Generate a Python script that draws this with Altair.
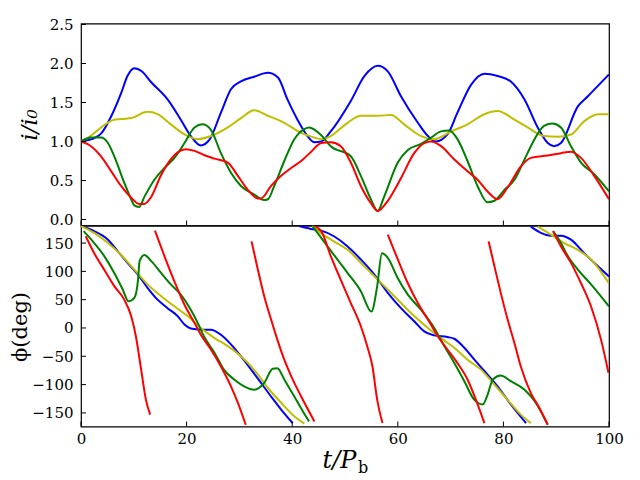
import altair as alt
import pandas as pd

# ---------------- data ----------------
XTICKS = [0, 20, 40, 60, 80, 100]
YTICKS_TOP = [0.0, 0.5, 1.0, 1.5, 2.0, 2.5]
YTICKS_BOT = [-150, -100, -50, 0, 50, 100, 150]

SERIES = ["b", "y", "g", "r"]
COLORS = {"b": "#0000ff", "y": "#bfbf00", "g": "#008000", "r": "#ff0000"}

BLUE_T = [0, 2, 3.8, 5.7, 7.6, 8.8, 10.1, 11.5, 13.3, 16.4, 18.9, 20.8, 22.7, 24.3, 26.5, 28.4, 30.3,
          32.8, 35.4, 37.3, 39.1, 41.0, 42.9, 44.2, 45.5, 47.3, 51.1, 53.7, 56.2, 58.1, 60.6, 63.8,
          65.7, 67.2, 69.4, 71.3, 73.9, 76.4, 78.9, 81.4, 84.0, 86.5, 88.4, 89.6, 90.9, 94.1, 96.0, 100]
BLUE_I = [1.0, 1.03, 1.1, 1.32, 1.62, 1.84, 1.94, 1.9, 1.76, 1.54, 1.28, 1.07, 0.95, 1.02, 1.37, 1.67, 1.77,
          1.83, 1.88, 1.82, 1.54, 1.28, 1.07, 0.99, 1.0, 1.13, 1.52, 1.84, 1.97, 1.9, 1.58, 1.24,
          1.07, 1.0, 1.09, 1.37, 1.73, 1.87, 1.84, 1.77, 1.54, 1.18, 0.98, 0.94, 0.98, 1.45, 1.58, 1.86]

YEL_T = [0, 2, 3.8, 6.3, 9.5, 12.6, 14.5, 17.0, 19.6, 22.1, 24.6, 27.8, 30.3, 32.8, 35.4, 38.5, 41.7,
         44.2, 45.5, 47.3, 50.5, 53.0, 56.2, 58.7, 61.2, 64.4, 66.9, 70.1, 73.2, 76.4, 78.9, 82.1,
         84.6, 87.7, 90.3, 92.8, 95.3, 97.9, 100]
YEL_I = [1.0, 1.08, 1.18, 1.28, 1.3, 1.38, 1.35, 1.22, 1.09, 1.03, 1.07, 1.18, 1.3, 1.40, 1.33, 1.24, 1.11,
         1.05, 1.03, 1.07, 1.24, 1.33, 1.33, 1.34, 1.22, 1.07, 1.03, 1.13, 1.22, 1.35, 1.39, 1.28,
         1.18, 1.07, 1.06, 1.09, 1.26, 1.35, 1.35]

GRN_T = [0, 1.9, 3.8, 5.1, 6.3, 8.2, 9.5, 10.1, 11.0, 12.0, 13.9, 15.8, 17.7, 19.6, 21.5, 23.0, 24.6,
         26.5, 28.4, 30.3, 32.8, 34.7, 35.4, 36.6, 38.5, 40.4, 42.3, 43.2, 45.5, 47.3, 51.1, 53.0,
         54.9, 56.2, 57.4, 60.0, 61.9, 64.4, 66.3, 68.2, 69.7, 71.3, 73.2, 75.1, 77.0, 78.3, 80.2,
         82.1, 84.0, 85.9, 87.7, 89.3, 90.9, 92.8, 94.7, 97.2, 100]
GRN_I = [1.0, 1.05, 1.05, 0.98, 0.81, 0.47, 0.26, 0.18, 0.16, 0.29, 0.51, 0.66, 0.79, 0.98, 1.18, 1.22, 1.15,
         0.85, 0.60, 0.43, 0.32, 0.25, 0.26, 0.43, 0.75, 1.03, 1.16, 1.18, 1.08, 0.94, 0.81, 0.56,
         0.26, 0.11, 0.29, 0.73, 0.89, 0.97, 1.05, 1.13, 1.14, 1.03, 0.75, 0.43, 0.22, 0.24, 0.38,
         0.51, 0.77, 1.03, 1.20, 1.23, 1.18, 0.94, 0.73, 0.58, 0.36]

RED_T = [0, 1.9, 3.8, 5.7, 7.6, 9.5, 11.0, 12.0, 13.3, 15.1, 17.0, 18.3, 19.9, 21.5, 23.5, 25.3, 27.8,
         29.7, 31.6, 33.5, 34.1, 36.0, 37.9, 39.8, 41.7, 43.6, 45.5, 47.3, 49.2, 51.1, 53.0, 54.9,
         56.2, 58.1, 60.6, 63.1, 65.0, 66.3, 68.2, 70.7, 73.2, 75.1, 77.0, 78.9, 80.8, 83.3, 85.2,
         88.4, 90.9, 92.8, 94.7, 97.2, 100]
RED_I = [1.0, 0.94, 0.81, 0.62, 0.43, 0.28, 0.2, 0.2, 0.29, 0.56, 0.77, 0.86, 0.9, 0.88, 0.82, 0.78, 0.73,
         0.56, 0.38, 0.27, 0.27, 0.43, 0.56, 0.66, 0.75, 0.87, 0.98, 0.99, 0.94, 0.73, 0.43, 0.21,
         0.11, 0.24, 0.53, 0.85, 0.98, 1.0, 0.94, 0.77, 0.62, 0.51, 0.36, 0.26, 0.41, 0.68, 0.79,
         0.82, 0.85, 0.87, 0.79, 0.56, 0.26]

# phase branches (each wraps at +/-180 deg)
BLUE_PHI = [
    ([0, 2.5, 5.1, 7.0, 8.8, 10.8, 12.6, 14.5, 16.4, 18.3, 19.6, 20.8, 22.7, 24.6, 26.5, 28.4, 30.3, 32.2, 34.1, 36.0, 37.9, 40.1],
     [180, 171, 156, 135, 115, 94, 71, 50, 35, 21, 6, -1, -3, -3, -12, -29, -50, -73, -97, -121, -144, -168]),
    ([41.3, 43.5, 45.5, 47.9, 50.5, 53.0, 55.6, 58.1, 60.6, 63.1, 65.0, 66.9, 69.4, 70.7, 72.6, 74.5, 76.4, 78.9, 81.4, 84.3],
     [180, 175, 172, 162, 144, 121, 94, 62, 35, 12, -6, -13, -16, -19, -35, -56, -76, -103, -135, -168]),
    ([85.2, 87.1, 89.0, 90.9, 92.8, 95.3, 97.9, 100],
     [179, 168, 163, 163, 156, 132, 109, 91]),
]
YEL_PHI = [
    ([0, 2.5, 5.1, 7.6, 10.1, 12.6, 15.2, 17.7, 20.2, 22.7, 25.3, 27.8, 30.3, 32.8, 35.4, 37.9, 40.4, 42.3],
     [180, 168, 150, 129, 103, 77, 56, 38, 21, 0, -18, -32, -50, -74, -106, -132, -156, -169]),
    ([43.8, 45.5, 47.9, 50.5, 53.0, 55.6, 58.1, 60.6, 63.1, 65.7, 68.2, 70.7, 73.2, 75.8, 78.3, 80.8, 83.3, 85.2],
     [180, 167, 153, 138, 115, 91, 68, 44, 21, 0, -18, -35, -56, -74, -100, -127, -153, -168]),
    ([86.5, 89.0, 91.5, 94.1, 96.6, 100],
     [179, 165, 150, 138, 121, 79]),
]
GRN_PHI = [
    ([0.5, 2.5, 4.4, 6.3, 7.9, 9.0, 10.1, 10.8, 11.1, 12.0, 13.3, 15.2, 17.0, 18.9, 20.8, 22.1, 23.3, 25.3, 27.1, 29.0,
      30.9, 32.8, 34.7, 36.3, 37.2, 38.5, 40.4, 42.0, 43.2],
     [171, 150, 127, 97, 68, 47, 53, 85, 118, 129, 118, 97, 77, 59, 32, 9, -15, -44, -74, -91,
      -103, -109, -97, -72, -71, -91, -121, -147, -165]),
    ([43.9, 45.5, 47.9, 50.5, 53.0, 55.0, 56.1, 57.0, 58.1, 60.0, 61.9, 64.4, 66.9, 68.8, 70.7, 72.6, 74.5, 76.1, 77.0,
      78.0, 79.5, 81.4, 84.0, 85.9, 88.4],
     [179, 159, 129, 97, 65, 29, 74, 132, 124, 88, 59, 32, 0, -32, -62, -94, -127, -135, -118,
      -91, -84, -94, -109, -129, -171]),
    ([89.4, 90.9, 92.2, 94.1, 96.6, 100],
     [171, 150, 127, 103, 77, 38]),
]
RED_PHI = [
    ([0.9, 2.5, 4.4, 6.3, 8.2, 9.5, 10.4, 11.4, 12.3, 13.1],
     [162, 132, 103, 74, 50, 21, -15, -74, -127, -153]),
    ([14.0, 15.8, 17.7, 19.6, 21.5, 22.7, 24.6, 26.5, 28.4, 29.7, 31.2],
     [172, 127, 82, 41, 9, -12, -38, -68, -103, -132, -171]),
    ([32.3, 33.5, 34.7, 36.0, 37.2, 38.5, 39.8, 41.7, 44.2],
     [153, 103, 56, 15, -21, -56, -85, -121, -165]),
    ([44.4, 45.5, 47.3, 49.2, 51.1, 53.0, 54.2, 55.2, 56.1, 57.1],
     [179, 171, 127, 85, 44, 3, -32, -68, -127, -168]),
    ([58.1, 60.0, 61.9, 63.8, 65.7, 67.6, 69.4, 71.3, 73.2, 74.8, 76.4],
     [165, 121, 79, 44, 15, -15, -38, -62, -91, -127, -168]),
    ([77.2, 78.3, 79.5, 80.8, 82.1, 83.3, 85.2, 86.8, 88.4],
     [153, 109, 62, 15, -27, -68, -115, -141, -171]),
    ([89.4, 90.9, 92.8, 94.7, 96.6, 98.5, 99.9],
     [171, 144, 115, 79, 38, -21, -79]),
]

# ---------------- tables ----------------
TOP = {"b": (BLUE_T, BLUE_I), "y": (YEL_T, YEL_I), "g": (GRN_T, GRN_I), "r": (RED_T, RED_I)}
BOT = {"b": BLUE_PHI, "y": YEL_PHI, "g": GRN_PHI, "r": RED_PHI}

top_rows = []
for s, (ts, vs) in TOP.items():
    for t, v in zip(ts, vs):
        top_rows.append({"t": t, "v": v, "s": s})
df_top = pd.DataFrame(top_rows)

bot_rows = []
for s, segs in BOT.items():
    for k, (ts, ps) in enumerate(segs):
        for t, p in zip(ts, ps):
            bot_rows.append({"t": t, "phi": p, "s": s, "seg": f"{s}{k}"})
df_bot = pd.DataFrame(bot_rows)

# ---------------- chart ----------------
W, H_TOP, H_BOT = 528, 202, 201
FONT = "DejaVu Serif"

xscale = alt.Scale(domain=[0, 100], nice=False, zero=False)
ytop_scale = alt.Scale(domain=[-0.077, 2.513], nice=False, zero=False)
ybot_scale = alt.Scale(domain=[-174, 181], nice=False, zero=False)

common_axis = dict(ticks=False, domain=False, grid=False, labelFont=FONT, labelFontSize=15,
                   labelColor="black", labelFlush=False, titleFont=FONT, titleColor="black",
                   titleFontWeight="normal")

ytop_axis = alt.Axis(values=YTICKS_TOP, format=".1f", labelPadding=8, title="i/i₀",
                     titleFontSize=23, titleFontStyle="italic", titleAngle=270, titleX=-52, titleY=101,
                     titleAlign="center", titleBaseline="middle", **common_axis)
ybot_axis = alt.Axis(values=YTICKS_BOT, format="d", labelPadding=8, title="ϕ(deg)",
                     titleFontSize=21, titleAngle=270, titleX=-61, titleY=101,
                     titleAlign="center", titleBaseline="middle", **common_axis)
xbot_axis = alt.Axis(values=XTICKS, format="d", labelPadding=5, title="t/P",
                     titleFontSize=24, titleFontStyle="italic", titleX=258, titleY=41,
                     titleAlign="center", titleBaseline="alphabetic", **common_axis)


def panel(df, yfield, yscale, yaxis, xaxis, yticks, h):
    layers = []
    for s in SERIES:
        d = df[df["s"] == s]
        enc = dict(x=alt.X("t:Q", scale=xscale, axis=xaxis),
                   y=alt.Y(f"{yfield}:Q", scale=yscale, axis=yaxis),
                   order="t:Q")
        if "seg" in d.columns:
            enc["detail"] = "seg:N"
        layers.append(alt.Chart(d).mark_line(color=COLORS[s], strokeWidth=2,
                                             interpolate="monotone", clip=True).encode(**enc))
    yt = alt.Chart(pd.DataFrame({yfield: yticks})).mark_rule(color="black", strokeWidth=1).encode(
        y=alt.Y(f"{yfield}:Q", scale=yscale, axis=yaxis), x=alt.value(0), x2=alt.value(5))
    xt = alt.Chart(pd.DataFrame({"t": XTICKS})).mark_rule(color="black", strokeWidth=1).encode(
        x=alt.X("t:Q", scale=xscale, axis=xaxis), y=alt.value(h), y2=alt.value(h - 5))
    layers += [yt, xt]
    return alt.layer(*layers).properties(width=W, height=h)


top = panel(df_top, "v", ytop_scale, ytop_axis, None, YTICKS_TOP, H_TOP)
bot = panel(df_bot, "phi", ybot_scale, ybot_axis, xbot_axis, YTICKS_BOT, H_BOT)

sub_b = alt.Chart(pd.DataFrame({"k": [0]})).mark_text(
    text="b", font=FONT, fontSize=16, align="left", baseline="alphabetic", color="black"
).encode(x=alt.value(277), y=alt.value(247))
bot = alt.layer(bot, sub_b)

chart = alt.vconcat(top, bot, spacing=0, bounds="flush").properties(
    padding={"left": 0, "top": 8.5, "right": 0, "bottom": 0},
).configure_view(stroke="black", strokeWidth=1.2)

chart.save("out.html", embed_options={"renderer": "svg", "actions": False})
